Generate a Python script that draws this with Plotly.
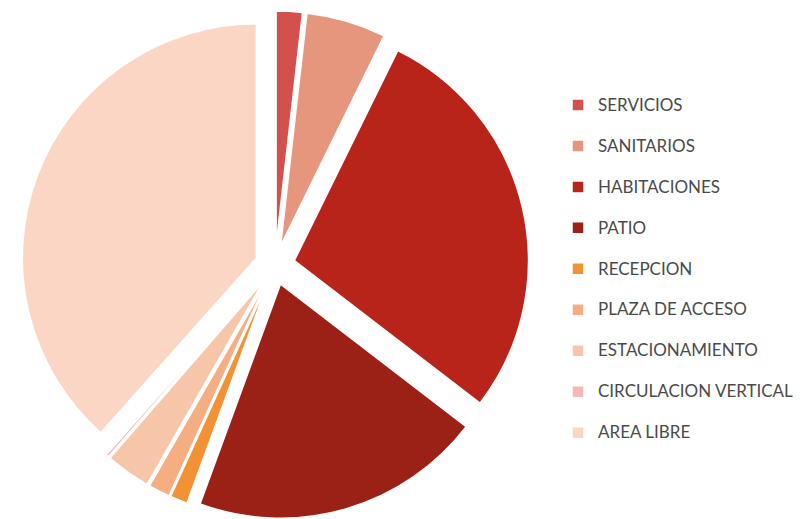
import plotly.graph_objects as go

# Distribución de áreas del proyecto
categories = [
    "SERVICIOS",
    "SANITARIOS",
    "HABITACIONES",
    "PATIO",
    "RECEPCION",
    "PLAZA DE ACCESO",
    "ESTACIONAMIENTO",
    "CIRCULACION VERTICAL",
    "AREA LIBRE",
]
area_pct = [1.8, 5.5, 28.2, 20.2, 1.2, 1.5, 3.1, 0.2, 38.5]
slice_colors = [
    "#d4504c",
    "#e6967d",
    "#b82419",
    "#9b2116",
    "#f39135",
    "#f4ae82",
    "#f7c5a8",
    "#f5b8b5",
    "#fbd6c5",
]

W, H = 803, 519

# Legend entries: visible text on the first line, an empty second line
# gives each entry its taller row spacing.
legend_labels = [
    f'<span style="font-size:17px">{c}</span><br> ' for c in categories
]

fig = go.Figure(
    go.Pie(
        labels=legend_labels,
        values=area_pct,
        sort=False,
        direction="clockwise",
        rotation=0,
        pull=0.085,
        marker=dict(colors=slice_colors, line=dict(color="white", width=1.5)),
        textinfo="none",
        hoverinfo="skip",
        domain=dict(x=[21 / W, 529 / W], y=[0, 508 / H]),
    )
)

fig.update_layout(
    width=W,
    height=H,
    margin=dict(l=0, r=0, t=0, b=0),
    paper_bgcolor="white",
    plot_bgcolor="white",
    font=dict(family="Lato, Open Sans, sans-serif", color="#4a4a4a"),
    showlegend=True,
    legend=dict(
        x=558 / W,
        xanchor="left",
        y=1 - 89 / H,
        yanchor="top",
        valign="top",
        font=dict(size=14.6, color="#4a4a4a"),
        bgcolor="rgba(0,0,0,0)",
    ),
)

fig.write_html("out.html")
